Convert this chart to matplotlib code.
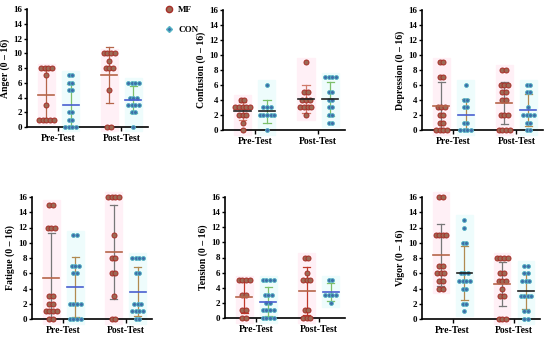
import numpy as np
import matplotlib.pyplot as plt
from matplotlib.patches import Rectangle

plt.rcParams['font.family'] = ['Liberation Serif', 'DejaVu Serif']
plt.rcParams['font.weight'] = 'bold'

# datos: valor -> numero de sujetos (MF pre, CON pre, MF post, CON post)
paneles = ['Anger (0 \u2013 16)', 'Confusion (0 \u2013 16)', 'Depression (0 \u2013 16)',
           'Fatigue (0 \u2013 16)', 'Tension (0 \u2013 16)', 'Vigor (0 \u2013 16)']

anger = [{8: 4, 7: 1, 3: 1, 1: 5},
         {7: 2, 6: 2, 5: 2, 2: 2, 1: 2, 0: 4},
         {10: 4, 9: 1, 8: 3, 5: 1, 0: 2},
         {6: 4, 4: 3, 3: 4, 2: 2, 0: 1}]
confusion = [{4: 2, 3: 5, 2: 3, 1: 1, 0: 1},
             {6: 1, 3: 3, 2: 5, 0: 1},
             {9: 1, 5: 2, 4: 3, 3: 4, 2: 1},
             {7: 4, 5: 2, 4: 2, 3: 2, 2: 2, 1: 2}]
depression = [{9: 2, 7: 2, 3: 3, 2: 2, 1: 2, 0: 4},
              {6: 1, 4: 2, 3: 2, 1: 2, 0: 4},
              {8: 2, 6: 3, 5: 2, 4: 2, 2: 3, 0: 4},
              {6: 2, 5: 2, 3: 1, 2: 4, 1: 2, 0: 2}]
fatigue = [{15: 2, 12: 3, 3: 2, 2: 2, 1: 4, 0: 2},
           {11: 2, 7: 3, 6: 2, 2: 4, 0: 4},
           {16: 4, 11: 1, 8: 2, 6: 2, 3: 1, 0: 2},
           {8: 4, 6: 2, 2: 3, 1: 4, 0: 2}]
tension = [{5: 4, 3: 2, 1: 2, 0: 2},
           {5: 4, 3: 3, 2: 2, 1: 4, 0: 4},
           {8: 2, 6: 1, 5: 3, 1: 2, 0: 3},
           {5: 2, 3: 4, 2: 1}]
vigor = [{16: 2, 11: 4, 7: 2, 6: 3, 5: 2, 4: 2},
         {13: 1, 12: 1, 10: 2, 6: 3, 5: 4, 4: 2, 2: 2, 1: 1},
         {8: 4, 6: 2, 5: 3, 4: 1, 3: 2, 0: 3},
         {7: 2, 6: 2, 5: 3, 3: 4, 1: 2, 0: 2}]
datos = [anger, confusion, depression, fatigue, tension, vigor]

# colores de media y DE por panel (MF, CON)
media_col = [('#b5654a', '#4a5fd0'), ('#222222', '#222222'), ('#b5654a', '#4a5fd0'),
             ('#b5654a', '#4a5fd0'), ('#b5654a', '#4a5fd0'), ('#b5654a', '#222222')]
de_col = [('#b5654a', '#7cbf6a'), ('#d07a6a', '#7cbf6a'), ('#777777', '#b08a50'),
          ('#777777', '#b08a50'), ('#c0392b', '#7cbf6a'), ('#777777', '#b08a50')]

xpos = [0, 1, 2.6, 3.6]
posiciones = [[27, 9, 121, 118], [223, 10, 122, 120], [422, 10, 121, 120],
              [32, 21, 120, 122], [225, 21, 120, 121], [422, 21, 118, 122]]

fig = plt.figure(figsize=[5.5, 3.4], dpi=100)
W, H = 550, 340

for k in range(6):
    l, t, w, h = posiciones[k]
    ax = fig.add_axes([l / W, 1 - (t + h) / H if k < 3 else 1 - (t + 176 + h) / H, w / W, h / H])
    for g in range(4):
        d = datos[k][g]
        vals = []
        mf = g % 2 == 0
        for v, n in d.items():
            vals += [v] * n
            offs = (np.arange(n) - (n - 1) / 2) * 0.15
            if mf:
                ax.scatter(xpos[g] + offs, [v] * n, s=13, color='#9c6a55',
                           edgecolors='#a82e28', linewidths=0.7, zorder=3, clip_on=False)
            else:
                ax.scatter(xpos[g] + offs, [v] * n, s=8, marker='o', color='#3f6fa8',
                           edgecolors='#55b5c5', linewidths=0.6, zorder=3, clip_on=False)
        vals = np.array(vals)
        m, sd = vals.mean(), vals.std(ddof=1)
        # sombra de fondo
        ax.add_patch(Rectangle((xpos[g] - 0.35, max(vals.min() - 0.6, -0.6)), 0.7,
                               vals.max() - vals.min() + 1.2,
                               color='#fff0f6' if mf else '#eefcfc', zorder=1, clip_on=False))
        c1 = de_col[k][0 if mf else 1]
        c2 = media_col[k][0 if mf else 1]
        ax.plot([xpos[g], xpos[g]], [max(m - sd, 0), m + sd], color=c1, lw=0.9, zorder=2)
        ax.plot([xpos[g] - 0.15, xpos[g] + 0.15], [m + sd, m + sd], color=c1, lw=0.9, zorder=2)
        if m - sd > 0:
            ax.plot([xpos[g] - 0.15, xpos[g] + 0.15], [m - sd, m - sd], color=c1, lw=0.9, zorder=2)
        ax.plot([xpos[g] - 0.33, xpos[g] + 0.33], [m, m], color=c2, lw=1.2, zorder=4)

    ax.set_xlim(-0.8, 4.2)
    ax.set_ylim(0, 16)
    ax.set_yticks(range(0, 17, 2))
    ax.set_xticks([0.5, 3.1])
    ax.set_xticklabels(['Pre-Test', 'Post-Test'])
    ax.set_ylabel(paneles[k], fontsize=7, fontweight='bold', labelpad=2)
    for s in ['top', 'right']:
        ax.spines[s].set_visible(False)
    for s in ['left', 'bottom']:
        ax.spines[s].set_linewidth(1.2)
    ax.tick_params(axis='y', labelsize=6.5, length=2.5, width=1, pad=1)
    ax.tick_params(axis='x', labelsize=7, length=3, width=1, pad=2)
    ax.patch.set_alpha(0)

# leyenda
fig.legend(handles=[
    plt.Line2D([], [], marker='o', ls='', markersize=4.5, color='#9c6a55', markeredgecolor='#a82e28'),
    plt.Line2D([], [], marker='D', ls='', markersize=3, color='#3f6fa8', markeredgecolor='#55b5c5')],
    labels=['MF', 'CON'], loc='upper left', bbox_to_anchor=(163 / W, 1 - 3 / H),
    frameon=False, fontsize=6.5, labelspacing=1.3, handletextpad=0.6, handlelength=0.8,
    borderaxespad=0, borderpad=0.3)

plt.savefig('out.png', dpi=100)
